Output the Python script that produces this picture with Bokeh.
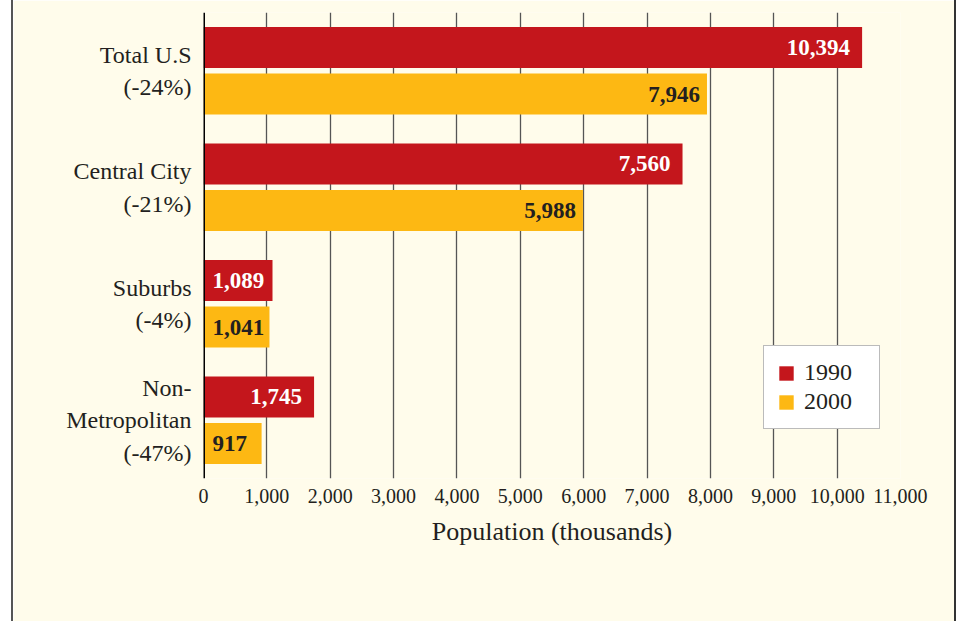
from bokeh.plotting import figure
from bokeh.models import Range1d, FixedTicker, NumeralTickFormatter, Span, ColumnDataSource, Legend, LegendItem
from bokeh.core.properties import value
from bokeh.embed import file_html
from bokeh.resources import INLINE

categories = ["Total U.S\n(-24%)", "Central City\n(-21%)", "Suburbs\n(-4%)", "Non-\nMetropolitan\n(-47%)"]
pop_1990 = [10394, 7560, 1089, 1745]
pop_2000 = [7946, 5988, 1041, 917]
x_ticks = [0, 1000, 2000, 3000, 4000, 5000, 6000, 7000, 8000, 9000, 10000, 11000]

RED = "#C4161C"
YEL = "#FDB813"
CREAM = "#FFFCEB"
INK = "#231F20"
FONT = "Liberation Serif"

p = figure(width=945, height=621, output_backend="svg", toolbar_location=None,
           x_range=Range1d(0, 11000), y_range=Range1d(3.5, -0.5),
           min_border_left=190, min_border_right=58, min_border_top=12, min_border_bottom=143)
p.margin = (0, 0, 0, 11)
p.styles = {"border-left": "2px solid #555555", "border-right": "2px solid #333333"}
p.background_fill_color = CREAM
p.border_fill_color = CREAM
p.outline_line_color = None

idx = list(range(len(categories)))
off = 0.2
h = 0.352
src90 = ColumnDataSource(dict(y=[i - off for i in idx], v=pop_1990))
src00 = ColumnDataSource(dict(y=[i + off for i in idx], v=pop_2000))

r90 = p.hbar(y="y", right="v", left=0, height=h, source=src90, fill_color=RED, line_color=None)
r00 = p.hbar(y="y", right="v", left=0, height=h, source=src00, fill_color=YEL, line_color=None)

def label_cols(vals, ys, pad):
    ax, al, xo, tx = [], [], [], []
    for v in vals:
        if v > 1500:
            ax.append(v); al.append("right"); xo.append(-pad)
        else:
            ax.append(0); al.append("left"); xo.append(9)
        tx.append(f"{v:,}")
    return ColumnDataSource(dict(x=ax, y=ys, a=al, o=xo, t=tx))

l90 = label_cols(pop_1990, src90.data["y"], 12)
l00 = label_cols(pop_2000, src00.data["y"], 7)
p.text(x="x", y="y", text="t", text_align="a", x_offset="o", source=l90, text_color="white",
       text_font=value(FONT), text_font_style="bold", text_font_size="23px", text_baseline="middle")
p.text(x="x", y="y", text="t", text_align="a", x_offset="o", source=l00, text_color=INK,
       text_font=value(FONT), text_font_style="bold", text_font_size="23px", text_baseline="middle")

p.add_layout(Span(location=0, dimension="height", line_color="black", line_width=3))

# x axis
p.xaxis.ticker = FixedTicker(ticks=x_ticks)
p.xaxis.formatter = NumeralTickFormatter(format="0,0")
p.xaxis.axis_line_color = None
p.xaxis.major_tick_line_color = None
p.xaxis.minor_tick_line_color = None
p.xaxis.major_label_standoff = 4
p.xaxis.major_label_text_font = FONT
p.xaxis.major_label_text_font_size = "20px"
p.xaxis.major_label_text_color = INK
p.xaxis.axis_label = "Population (thousands)"
p.xaxis.axis_label_text_font = FONT
p.xaxis.axis_label_text_font_style = "normal"
p.xaxis.axis_label_text_font_size = "26px"
p.xaxis.axis_label_text_color = INK
p.xaxis.axis_label_standoff = 11

p.xgrid.ticker = FixedTicker(ticks=x_ticks[1:])
p.xgrid.grid_line_color = "#555555"
p.xgrid.grid_line_width = 1.3
p.ygrid.grid_line_color = None

# y axis
p.yaxis.ticker = FixedTicker(ticks=idx)
p.yaxis.major_label_overrides = {i: categories[i] for i in idx}
p.yaxis.axis_line_color = None
p.yaxis.major_tick_line_color = None
p.yaxis.minor_tick_line_color = None
p.yaxis.major_label_standoff = 6
p.yaxis.major_label_text_font = FONT
p.yaxis.major_label_text_font_size = "24px"
p.yaxis.major_label_text_color = INK
p.yaxis.major_label_text_line_height = 1.25

legend = Legend(items=[LegendItem(label="1990", renderers=[r90]), LegendItem(label="2000", renderers=[r00])],
                location=(560, 49), orientation="vertical",
                background_fill_color="white", background_fill_alpha=1.0,
                border_line_color="#777777", border_line_width=1.5,
                label_text_font=FONT, label_text_font_size="24px", label_text_color=INK,
                glyph_width=18, glyph_height=18, label_height=18, label_width=62, spacing=2,
                padding=13, margin=0, label_standoff=9)
p.add_layout(legend)

open("out.html", "w").write(file_html(p, INLINE))
